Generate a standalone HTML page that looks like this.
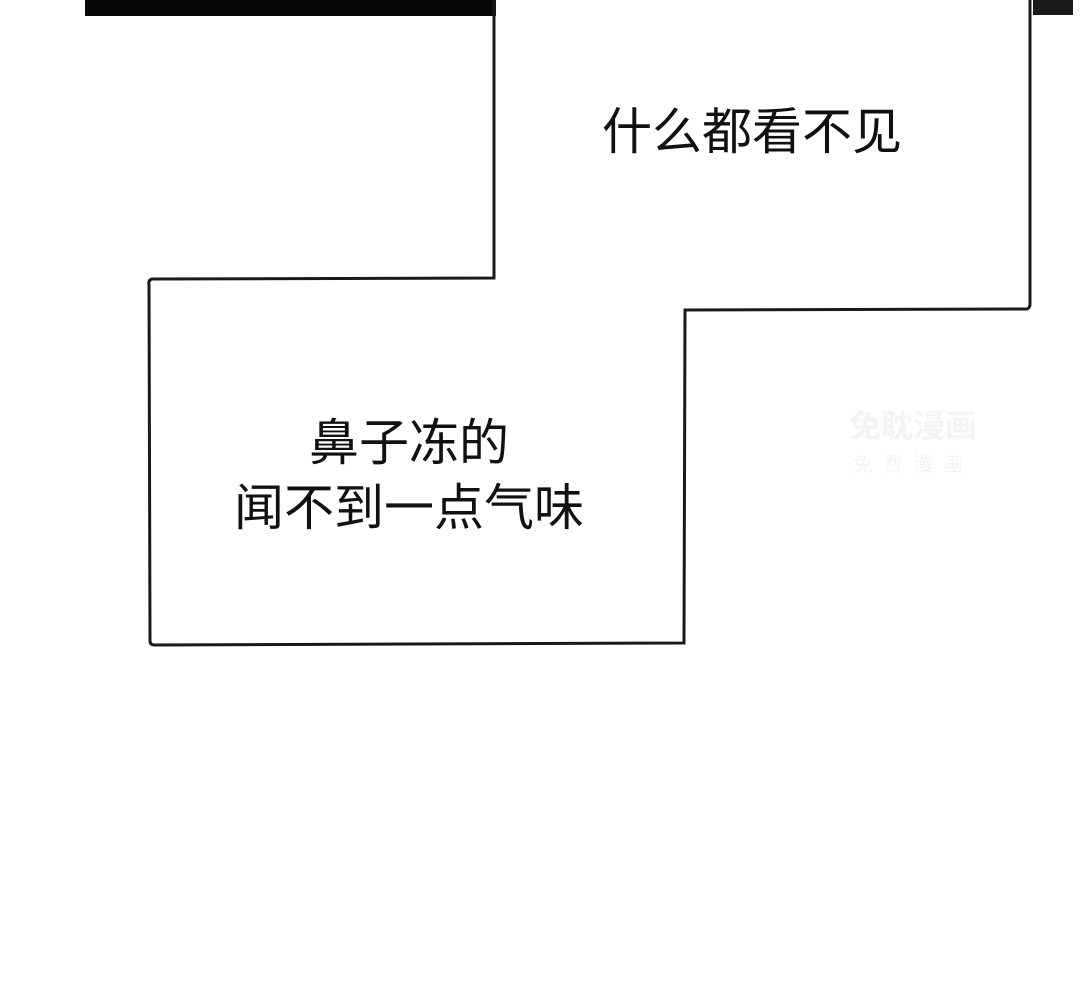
<!DOCTYPE html>
<html><head><meta charset="utf-8"><style>
html,body{margin:0;padding:0;background:#fff;}
body{width:1080px;height:992px;position:relative;overflow:hidden;font-family:"Liberation Sans","Noto Sans CJK SC",sans-serif;}
.t{position:absolute;font-size:50px;color:#111;white-space:nowrap;line-height:1;transform:translateX(-50%);}
</style></head><body>
<div style="position:absolute;left:85px;top:0;width:411px;height:16px;background:#080808"></div>
<div style="position:absolute;left:1033px;top:0;width:40px;height:15px;background:#1a1a1a"></div>
<svg width="1080" height="992" style="position:absolute;left:0;top:0">
<path d="M494,0 L494,278 L152,279 Q148,280 149,285 L150,641 Q150,645 155,645 L684,643 L685,310 L1027,309 Q1030,308 1030,304 L1030,0" fill="none" stroke="#1a1a1a" stroke-width="3"/>
</svg>
<div class="t" style="left:752px;top:107px">什么都看不见</div>
<div class="t" style="left:409px;top:418px">鼻子冻的</div>
<div class="t" style="left:409px;top:483px">闻不到一点气味</div>
<div class="t" style="left:913px;top:410px;font-size:32px;color:#f4f4f4;font-weight:bold">免耽漫画</div>
<div class="t" style="left:913px;top:455px;font-size:20px;color:#f4f4f4;letter-spacing:10px">免费漫画</div>
</body></html>
